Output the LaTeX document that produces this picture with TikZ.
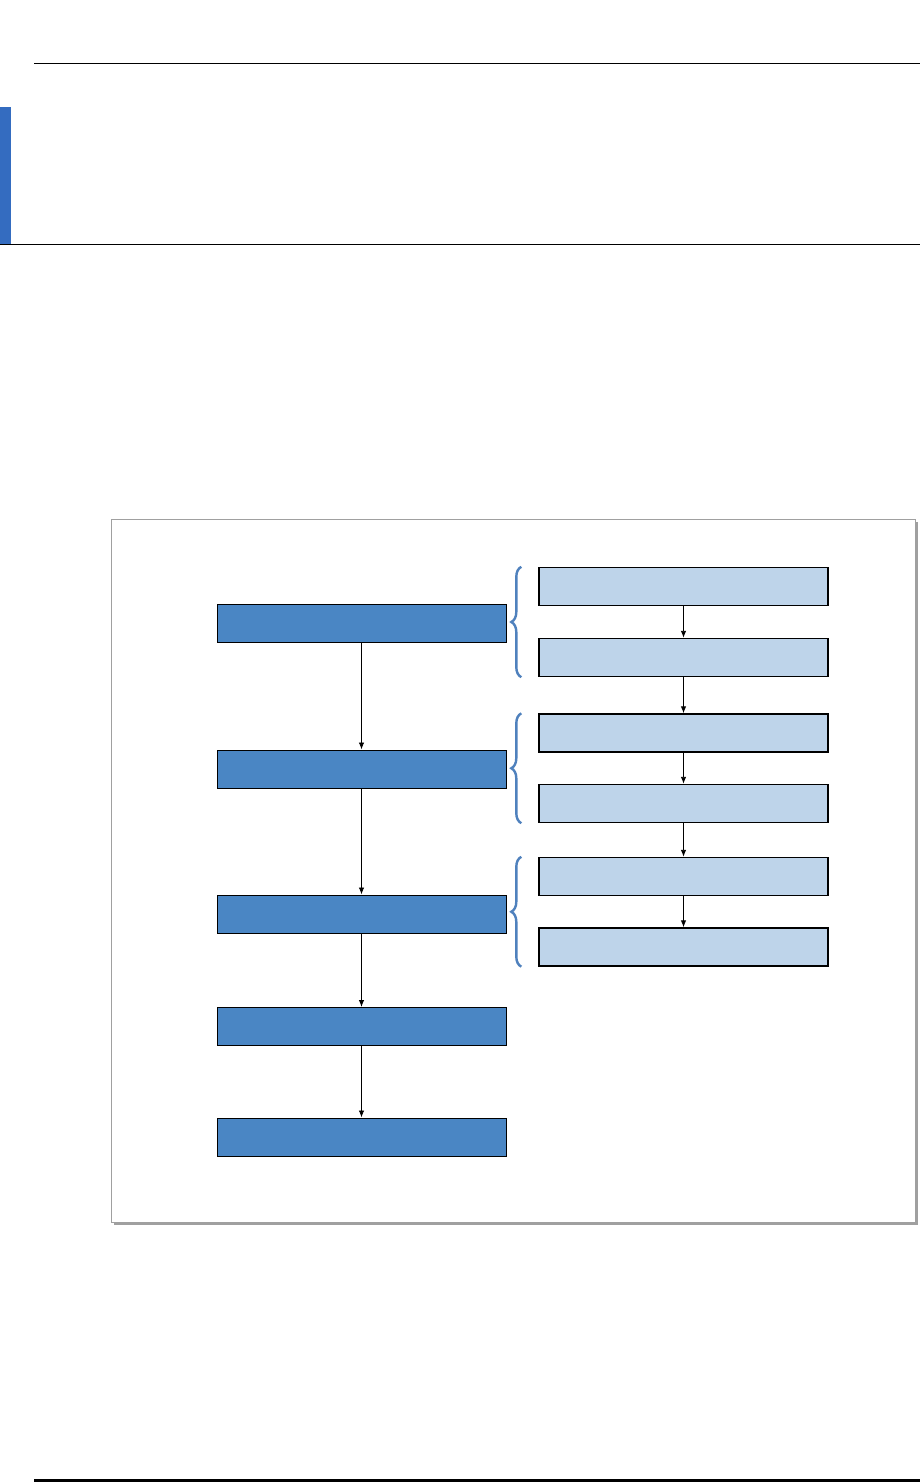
\documentclass[tikz,border=0pt]{standalone}
\usepackage{xcolor}
\usepackage{tikz}
\usetikzlibrary{shapes,arrows,arrows.meta,positioning,fit,backgrounds,decorations.pathreplacing}

\definecolor{barblue}{RGB}{52,108,192}
\definecolor{mainblue}{RGB}{74,134,196}
\definecolor{subblue}{RGB}{190,212,234}
\definecolor{bracecol}{RGB}{79,129,189}
\definecolor{framegray}{RGB}{160,160,160}

\begin{document}
\begin{tikzpicture}[x=1pt, y=-1pt,
    stage/.style={rectangle, draw, line width=1pt, fill=mainblue, minimum width=289pt, minimum height=38pt, inner sep=0pt},
    substage/.style={rectangle, draw, line width=1.4pt, fill=subblue, minimum width=289pt, minimum height=38pt, inner sep=0pt},
    group/.style={draw=bracecol, line width=2.4pt, decorate, decoration={brace, amplitude=10pt}},
    line/.style={draw, -{Latex[length=7pt, width=5.5pt]}, line width=0.9pt}]

    \useasboundingbox (0,0) rectangle (920,1483);

    % Page rules
    \draw [line width=1pt] (34,63.5) -- (920,63.5);
    \fill [barblue] (0,107) rectangle (11,244);
    \draw [line width=1pt] (0,244) -- (920,244);
    \draw [line width=3pt] (34,1480) -- (920,1480);

    % Frame
    \fill [framegray] (114,522) rectangle (918,1225);
    \draw [framegray, fill=white, line width=1pt] (111,519) rectangle (915,1222);

    % Nodes
    \node [stage] (plan) at (361.5,623.5) {};
    \node [stage] (build) at (361.5,769) {};
    \node [stage] (check) at (361.5,914) {};
    \node [stage] (deploy) at (361.5,1026.5) {};
    \node [stage] (close) at (361.5,1137) {};

    \node [substage] (planA) at (683.5,586.5) {};
    \node [substage] (planB) at (683.5,657.5) {};
    \node [substage] (buildA) at (683.5,733) {};
    \node [substage] (buildB) at (683.5,803.5) {};
    \node [substage] (checkA) at (683.5,876.5) {};
    \node [substage] (checkB) at (683.5,947) {};

    % Paths
    \path [line] (plan) -- (build);
    \path [line] (build) -- (check);
    \path [line] (check) -- (deploy);
    \path [line] (deploy) -- (close);

    \path [line] (planA) -- (planB);
    \path [line] (planB) -- (buildA);
    \path [line] (buildA) -- (buildB);
    \path [line] (buildB) -- (checkA);
    \path [line] (checkA) -- (checkB);

    % Braces
    \draw [group] ([xshift=-17pt]planB.south west) -- ([xshift=-17pt]planA.north west);
    \draw [group] ([xshift=-17pt]buildB.south west) -- ([xshift=-17pt]buildA.north west);
    \draw [group] ([xshift=-17pt]checkB.south west) -- ([xshift=-17pt]checkA.north west);

\end{tikzpicture}
\end{document}
